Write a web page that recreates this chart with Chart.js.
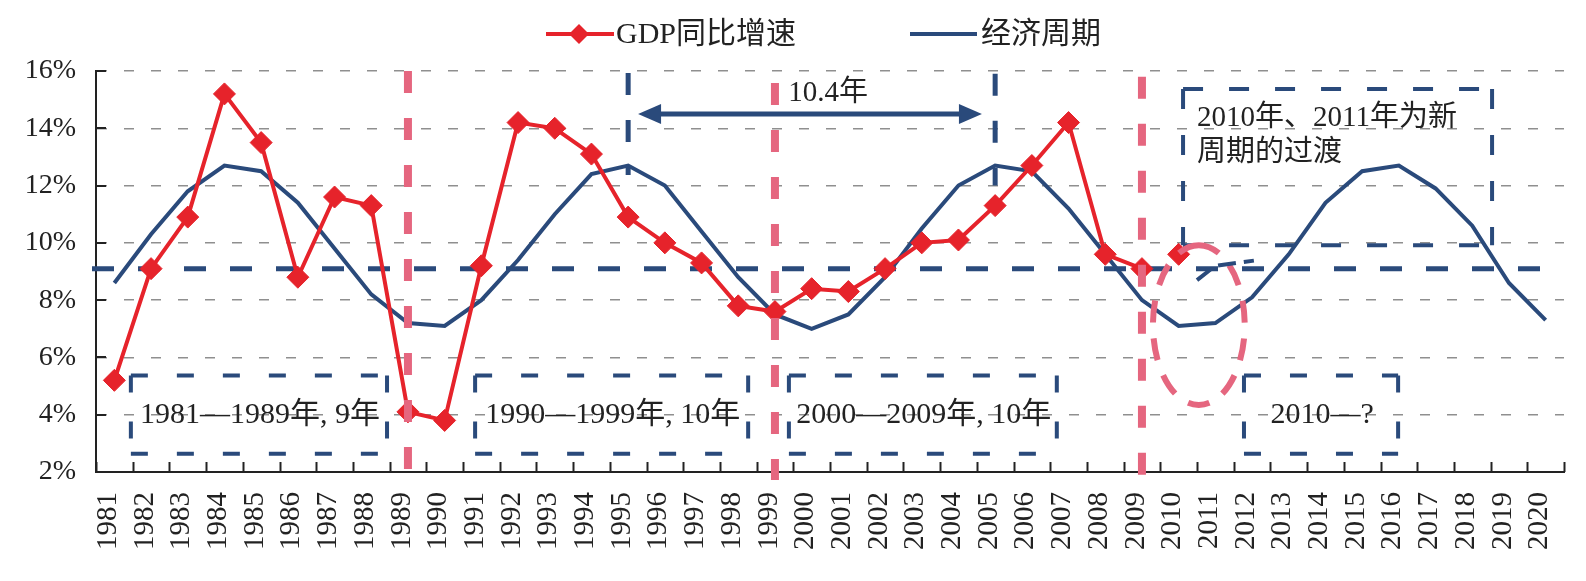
<!DOCTYPE html>
<html><head><meta charset="utf-8">
<script src="https://cdn.jsdelivr.net/npm/chart.js@4.4.1/dist/chart.umd.min.js"></script>
<style>html,body{margin:0;padding:0;background:#fff;overflow:hidden}#wrap{width:1586px;height:581px;position:relative}</style>
</head><body><div id="wrap"><canvas id="c"></canvas></div>
<script>
// ---- data ----
const years = ['1981','1982','1983','1984','1985','1986','1987','1988','1989','1990',
  '1991','1992','1993','1994','1995','1996','1997','1998','1999','2000',
  '2001','2002','2003','2004','2005','2006','2007','2008','2009','2010',
  '2011','2012','2013','2014','2015','2016','2017','2018','2019','2020'];
const gdpGrowth = [5.2, 9.1, 10.9, 15.2, 13.5, 8.8, 11.6, 11.3, 4.1, 3.8,
  9.2, 14.2, 14.0, 13.1, 10.9, 10.0, 9.3, 7.8, 7.6, 8.4,
  8.3, 9.1, 10.0, 10.1, 11.3, 12.7, 14.2, 9.6, 9.1, 9.6,
  null, null, null, null, null, null, null, null, null, null];
const economicCycle = [8.6, 10.3, 11.8, 12.7, 12.5, 11.4, 9.8, 8.2, 7.2, 7.1,
  8.0, 9.4, 11.0, 12.4, 12.7, 12.0, 10.4, 8.8, 7.5, 7.0,
  7.5, 8.8, 10.5, 12.0, 12.7, 12.5, 11.2, 9.6, 8.0, 7.1,
  7.2, 8.1, 9.6, 11.4, 12.5, 12.7, 11.9, 10.6, 8.6, 7.3];
const yTicks = [2, 4, 6, 8, 10, 12, 14, 16];
const seriesNames = ['GDP同比增速', '经济周期'];
const gdpBreakAfter = '2009';       // no connecting segment after this year
const averageLevel = 9.1;            // horizontal dashed reference line
const phaseBoundaryYears = ['1989', '1999', '2009'];
const phaseTexts = ['1981—1989年, 9年', '1990—1999年, 10年', '2000—2009年, 10年', '2010—?'];
const cycleLengthText = '10.4年';
const cyclePeakYears = ['1995', '2005'];
const transitionTextLines = ['2010年、2011年为新', '周期的过渡'];

// ---- styles ----
const RED = '#E6232B', NAVY = '#2A4A7B', PINK = '#E5667F', GRID = '#8F8F8F', AXIS = '#222';
const FONT = "'Liberation Serif', 'Noto Sans CJK SC', serif";

// annotation geometry in data units (category index, percent)
const phaseBoxes = [
  {x0: 0.45, x1: 7.43, y0: 5.37, y1: 2.64},
  {x0: 9.83, x1: 17.27, y0: 5.37, y1: 2.64},
  {x0: 18.38, x1: 25.68, y0: 5.37, y1: 2.64},
  {x0: 30.78, x1: 34.98, y0: 5.37, y1: 2.64}
];
const transitionBox = {x0: 29.12, x1: 37.54, y0: 15.37, y1: 9.92};

function idx(year) { return years.indexOf(year); }

function dashedLine(ctx, x1, y1, x2, y2, color, w, dash) {
  ctx.save();
  ctx.strokeStyle = color; ctx.lineWidth = w; ctx.setLineDash(dash);
  ctx.beginPath(); ctx.moveTo(x1, y1); ctx.lineTo(x2, y2); ctx.stroke();
  ctx.restore();
}
function dashedRect(ctx, l, t, r, b, color, w, dash) {
  ctx.save();
  ctx.strokeStyle = color; ctx.lineWidth = w; ctx.setLineDash(dash);
  ctx.beginPath(); ctx.moveTo(l, t); ctx.lineTo(r, t); ctx.stroke();
  ctx.beginPath(); ctx.moveTo(r, t); ctx.lineTo(r, b); ctx.stroke();
  ctx.beginPath(); ctx.moveTo(l, b); ctx.lineTo(r, b); ctx.stroke();
  ctx.beginPath(); ctx.moveTo(l, t); ctx.lineTo(l, b); ctx.stroke();
  ctx.restore();
}

const annotations = {
  id: 'annotations',
  beforeDatasetsDraw(chart) {
    const {ctx, chartArea: a, scales: {x, y}} = chart;
    // inside tick marks
    ctx.save();
    ctx.strokeStyle = AXIS; ctx.lineWidth = 2;
    for (let i = 0; i <= years.length; i++) {
      const px = Math.round(x.getPixelForValue(i - 0.5)) + 0.5;
      ctx.beginPath(); ctx.moveTo(px, a.bottom); ctx.lineTo(px, a.bottom - 10); ctx.stroke();
    }
    yTicks.forEach(v => {
      const py = Math.round(y.getPixelForValue(v));
      ctx.beginPath(); ctx.moveTo(a.left, py); ctx.lineTo(a.left + 10, py); ctx.stroke();
    });
    ctx.restore();
    // phase boxes
    phaseBoxes.forEach(b => dashedRect(ctx, x.getPixelForValue(b.x0), y.getPixelForValue(b.y0),
      x.getPixelForValue(b.x1), y.getPixelForValue(b.y1), NAVY, 4, [17, 29]));
    dashedRect(ctx, x.getPixelForValue(transitionBox.x0), y.getPixelForValue(transitionBox.y0),
      x.getPixelForValue(transitionBox.x1), y.getPixelForValue(transitionBox.y1), NAVY, 4, [20, 26]);
    // average level line
    const py = y.getPixelForValue(averageLevel);
    dashedLine(ctx, a.left - 4, py, a.right, py, NAVY, 5, [22, 24]);
  },
  afterDatasetsDraw(chart) {
    const {ctx, chartArea: a, scales: {x, y}} = chart;
    // pink phase boundaries
    const tops = [16, 15.58, 15.8];
    phaseBoundaryYears.forEach((yr, i) => {
      const px = x.getPixelForValue(idx(yr));
      dashedLine(ctx, px, y.getPixelForValue(tops[i]), px, a.bottom + 8, PINK, 8, [22, 25]);
    });
    // pink ellipse
    ctx.save();
    ctx.strokeStyle = PINK; ctx.lineWidth = 6; ctx.setLineDash([22, 16]);
    const cx = x.getPixelForValue(29.55), cy = y.getPixelForValue(7.13);
    const rx = x.getPixelForValue(29.55 + 1.25) - cx, ry = y.getPixelForValue(7.13 - 2.79) - cy;
    ctx.beginPath(); ctx.ellipse(cx, cy, rx, ry, 0, -Math.PI / 2, Math.PI * 1.5); ctx.stroke();
    ctx.restore();
    // small transition stroke
    ctx.save();
    ctx.strokeStyle = NAVY; ctx.lineWidth = 4; ctx.setLineDash([18, 8]);
    ctx.beginPath();
    ctx.moveTo(x.getPixelForValue(29.5), y.getPixelForValue(8.7));
    ctx.lineTo(x.getPixelForValue(30.0), y.getPixelForValue(9.2));
    ctx.lineTo(x.getPixelForValue(31.05), y.getPixelForValue(9.38));
    ctx.stroke();
    ctx.restore();
    // cycle peak markers
    const peakTops = [15.93, 15.9], peakBottoms = [12.37, 12.0];
    cyclePeakYears.forEach((yr, i) => {
      const px = x.getPixelForValue(idx(yr));
      dashedLine(ctx, px, y.getPixelForValue(peakTops[i]), px, y.getPixelForValue(peakBottoms[i]), NAVY, 5, [22, 25]);
    });
    // double arrow
    const ax1 = x.getPixelForValue(14.27), ax2 = x.getPixelForValue(23.64), ay = y.getPixelForValue(14.5);
    const hl = 23, hh = 10;
    ctx.save();
    ctx.strokeStyle = NAVY; ctx.fillStyle = NAVY; ctx.lineWidth = 5;
    ctx.beginPath(); ctx.moveTo(ax1 + hl - 2, ay); ctx.lineTo(ax2 - hl + 2, ay); ctx.stroke();
    ctx.beginPath(); ctx.moveTo(ax1, ay); ctx.lineTo(ax1 + hl, ay - hh); ctx.lineTo(ax1 + hl, ay + hh); ctx.closePath(); ctx.fill();
    ctx.beginPath(); ctx.moveTo(ax2, ay); ctx.lineTo(ax2 - hl, ay - hh); ctx.lineTo(ax2 - hl, ay + hh); ctx.closePath(); ctx.fill();
    ctx.restore();
  },
  afterDraw(chart) {
    const {ctx, scales: {x, y}} = chart;
    ctx.save();
    ctx.fillStyle = AXIS;
    ctx.font = '30px ' + FONT;
    ctx.textBaseline = 'middle';
    // phase texts
    ctx.textAlign = 'center';
    phaseBoxes.forEach((b, i) => {
      ctx.fillText(phaseTexts[i], (x.getPixelForValue(b.x0) + x.getPixelForValue(b.x1)) / 2 + 1, y.getPixelForValue(4.0));
    });
    // cycle length text
    ctx.textAlign = 'left';
    ctx.font = '29px ' + FONT;
    ctx.fillText(cycleLengthText, x.getPixelForValue(18.36), y.getPixelForValue(15.23));
    // transition text
    transitionTextLines.forEach((t, i) => {
      ctx.fillText(t, x.getPixelForValue(29.5), y.getPixelForValue(14.33 - i * 1.19));
    });
    // legend
    ctx.font = '30px ' + FONT;
    const ly = 34;
    ctx.strokeStyle = RED; ctx.lineWidth = 4;
    ctx.beginPath(); ctx.moveTo(546, ly); ctx.lineTo(614, ly); ctx.stroke();
    ctx.fillStyle = RED;
    ctx.beginPath(); ctx.moveTo(569, ly); ctx.lineTo(579, ly - 10); ctx.lineTo(589, ly); ctx.lineTo(579, ly + 10); ctx.closePath(); ctx.fill();
    ctx.strokeStyle = NAVY;
    ctx.beginPath(); ctx.moveTo(910, ly); ctx.lineTo(977, ly); ctx.stroke();
    ctx.fillStyle = AXIS;
    ctx.fillText(seriesNames[0], 616, ly + 1);
    ctx.fillText(seriesNames[1], 981, ly + 1);
    ctx.restore();
  }
};

new Chart(document.getElementById('c'), {
  type: 'line',
  data: {
    labels: years,
    datasets: [
      {
        label: seriesNames[0], data: gdpGrowth,
        borderColor: RED, backgroundColor: RED, borderWidth: 4,
        pointStyle: 'rectRot', pointRadius: 11, pointHoverRadius: 11,
        pointBackgroundColor: RED, pointBorderColor: RED, pointBorderWidth: 1,
        tension: 0, spanGaps: false,
        segment: { borderColor: c => years[c.p0DataIndex] === gdpBreakAfter ? 'rgba(0,0,0,0)' : undefined }
      },
      {
        label: seriesNames[1], data: economicCycle,
        borderColor: NAVY, backgroundColor: NAVY, borderWidth: 4,
        pointRadius: 0, pointHoverRadius: 0, tension: 0
      }
    ]
  },
  options: {
    responsive: true, maintainAspectRatio: false, animation: false,
    layout: { padding: { top: 71, right: 22, bottom: 0, left: 0 } },
    plugins: { legend: { display: false }, tooltip: { enabled: false } },
    scales: {
      x: {
        offset: true,
        grid: { display: false, drawTicks: false },
        border: { display: true, color: AXIS, width: 2 },
        ticks: {
          minRotation: 90, maxRotation: 90, autoSkip: false, padding: 20, labelOffset: -6,
          color: AXIS, font: { family: FONT, size: 29 }
        },
        afterFit: s => { s.height = 109; s.paddingLeft = 0; s.paddingRight = 0; }
      },
      y: {
        min: 2, max: 16,
        afterBuildTicks: s => { s.ticks = yTicks.map(v => ({ value: v })); },
        grid: { color: GRID, lineWidth: 1.5, drawTicks: false },
        border: { display: true, color: AXIS, width: 2, dash: [10, 17] },
        ticks: { padding: 20, color: AXIS, font: { family: FONT, size: 28 }, callback: v => v + '%' },
        afterFit: s => { s.width = 96; s.paddingTop = 0; s.paddingBottom = 0; }
      }
    }
  },
  plugins: [annotations]
});
</script>
</body></html>
